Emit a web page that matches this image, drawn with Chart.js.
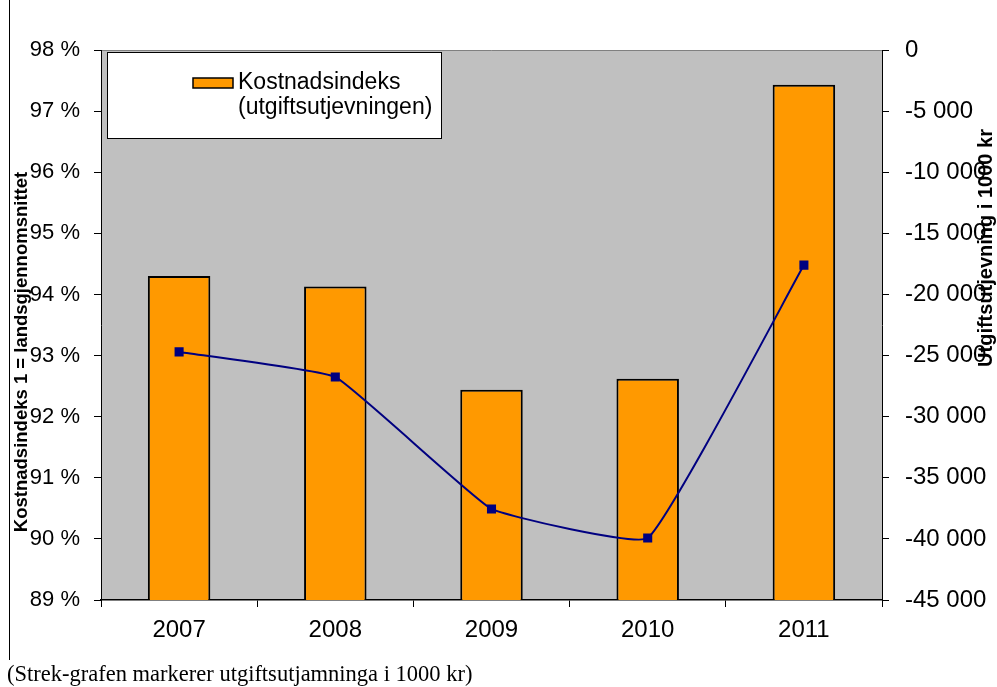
<!DOCTYPE html>
<html>
<head>
<meta charset="utf-8">
<script src="https://cdn.jsdelivr.net/npm/chart.js@4"></script>
<style>
  html, body { margin: 0; padding: 0; background: #fff; }
  #wrap { width: 997px; height: 687px; position: relative; }
</style>
</head>
<body>
<div id="wrap"><canvas id="myChart" width="997" height="687"></canvas></div>
<script>
const years = ['2007', '2008', '2009', '2010', '2011'];
const kostnadsindeks = [94.3, 94.13, 92.44, 92.62, 97.43];
const utgiftsutjevning = [-24700, -26750, -37550, -39930, -17600];
const legendLines = ['Kostnadsindeks', '(utgiftsutjevningen)'];
const leftTitle = 'Kostnadsindeks 1 = landsgjennomsnittet';
const rightTitle = 'Utgiftsutjevning i 1000 kr';
const caption = '(Strek-grafen markerer utgiftsutjamninga i 1000 kr)';

const sans = "'Liberation Sans', Arial, sans-serif";

function spaced(v) {
  const s = Math.abs(v).toString().replace(/\B(?=(\d{3})+(?!\d))/g, ' ');
  return (v < 0 ? '-' : '') + s;
}

// background, frame, legend box, titles and caption
const decor = {
  id: 'decor',
  beforeDraw(chart) {
    const { ctx, chartArea: a } = chart;
    ctx.save();
    ctx.fillStyle = '#c0c0c0';
    ctx.fillRect(a.left, a.top, a.right - a.left, a.bottom - a.top);
    ctx.strokeStyle = '#808080';
    ctx.lineWidth = 1;
    ctx.beginPath();
    ctx.moveTo(a.left, a.top + 0.5);
    ctx.lineTo(a.right, a.top + 0.5);
    ctx.stroke();
    // figure border on the left
    ctx.strokeStyle = '#000';
    ctx.beginPath();
    ctx.moveTo(9.5, 0);
    ctx.lineTo(9.5, 660);
    ctx.stroke();
    ctx.restore();
  },
  afterDraw(chart) {
    const { ctx } = chart;
    ctx.save();
    // legend
    ctx.fillStyle = '#fff';
    ctx.strokeStyle = '#000';
    ctx.lineWidth = 1;
    ctx.fillRect(107, 52, 334, 86);
    ctx.strokeRect(107.5, 52.5, 334, 86);
    ctx.fillStyle = '#ff9900';
    ctx.fillRect(193, 78, 40, 10);
    ctx.lineWidth = 1.5;
    ctx.strokeRect(193, 78, 40, 10);
    ctx.fillStyle = '#000';
    ctx.font = '23px ' + sans;
    ctx.textBaseline = 'middle';
    ctx.textAlign = 'left';
    ctx.fillText(legendLines[0], 238, 83);
    ctx.fillText(legendLines[1], 238, 108);

    // axis titles
    ctx.textAlign = 'center';
    ctx.font = 'bold 18.5px ' + sans;
    ctx.save();
    ctx.translate(22, 352);
    ctx.rotate(-Math.PI / 2);
    ctx.fillText(leftTitle, 0, 0);
    ctx.restore();
    ctx.font = 'bold 20px ' + sans;
    ctx.save();
    ctx.translate(986, 248);
    ctx.rotate(-Math.PI / 2);
    ctx.fillText(rightTitle, 0, 0);
    ctx.restore();

    // caption
    ctx.font = '22.5px "Liberation Serif", "Times New Roman", serif';
    ctx.textAlign = 'left';
    ctx.fillText(caption, 7, 675);
    ctx.restore();
  }
};

const ctx = document.getElementById('myChart').getContext('2d');
const myChart = new Chart(ctx, {
  data: {
    labels: years,
    datasets: [
      {
        type: 'line',
        label: 'Utgiftsutjevning',
        data: utgiftsutjevning,
        yAxisID: 'y2',
        borderColor: '#000080',
        backgroundColor: '#000080',
        borderWidth: 2,
        pointStyle: 'rect',
        pointRadius: 5,
        tension: 0.1,
        order: 0,
      },
      {
        type: 'bar',
        label: 'Kostnadsindeks',
        data: kostnadsindeks,
        yAxisID: 'y',
        backgroundColor: '#ff9900',
        borderColor: '#000',
        borderWidth: 2,
        barPercentage: 0.4,
        categoryPercentage: 1,
        order: 1,
      },
    ],
  },
  options: {
    responsive: false,
    animation: false,
    layout: { padding: { top: 50, left: 0, right: 0, bottom: 0 } },
    plugins: { legend: { display: false }, tooltip: { enabled: false } },
    scales: {
      x: {
        afterFit: s => { s.height = 87; },
        border: { color: '#000', width: 1.5 },
        grid: { drawOnChartArea: false, tickLength: 7, color: '#000', offset: true },
        ticks: { color: '#000', font: { family: sans, size: 24 }, padding: 9 },
      },
      y: {
        position: 'left',
        min: 89,
        max: 98,
        afterFit: s => { s.width = 101; },
        border: { color: '#000' },
        grid: { drawOnChartArea: false, tickLength: 7, color: '#000' },
        ticks: {
          stepSize: 1,
          color: '#000',
          font: { family: sans, size: 22 },
          padding: 14,
          callback: v => v + ' %',
        },
      },
      y2: {
        position: 'right',
        min: -45000,
        max: 0,
        afterFit: s => { s.width = 115; },
        border: { color: '#000' },
        grid: { drawOnChartArea: false, tickLength: 7, color: '#000' },
        ticks: {
          stepSize: 5000,
          color: '#000',
          font: { family: sans, size: 24 },
          padding: 16,
          callback: v => spaced(v),
        },
      },
    },
  },
  plugins: [decor],
});
</script>
</body>
</html>
